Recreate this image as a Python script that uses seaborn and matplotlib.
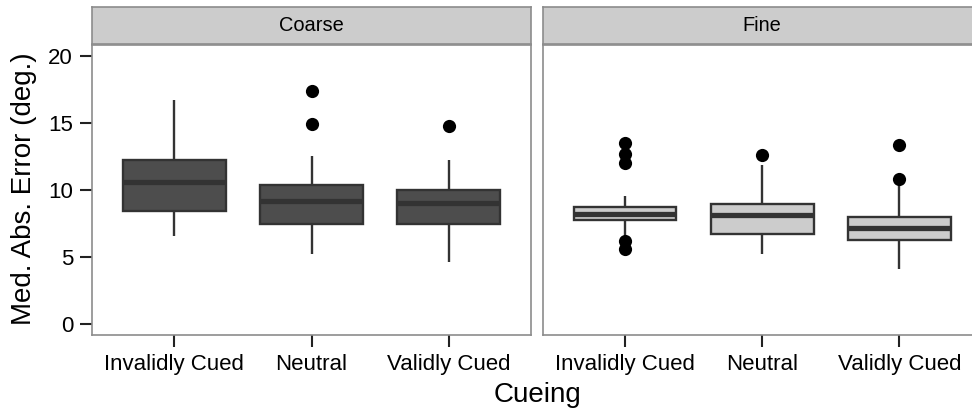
import numpy as np
import pandas as pd
import matplotlib
matplotlib.use("Agg")
import matplotlib.pyplot as plt
import seaborn as sns

sns.set_theme(style="white")
plt.rcParams['font.family'] = ['Liberation Sans', 'DejaVu Sans']
plt.rcParams['text.color'] = 'black'

# ---- data ----
categories = ["Invalidly Cued", "Neutral", "Validly Cued"]
panels = ["Coarse", "Fine"]
yticks = [0, 5, 10, 15, 20]

coarse_invalid = [6.58, 7.1, 7.7, 8.2, 8.45, 9.0, 9.6, 10.2, 10.62, 11.0, 11.5, 11.9, 12.27, 12.9, 13.6, 14.8, 16.75]
coarse_neutral = [5.21, 6.0, 6.6, 7.1, 7.5, 8.0, 8.5, 8.9, 9.22, 9.5, 9.8, 10.1, 10.4, 11.3, 12.59, 14.95, 17.43]
coarse_valid = [4.61, 5.8, 6.6, 7.2, 7.5, 8.0, 8.4, 8.8, 9.05, 9.3, 9.6, 9.8, 10.0, 10.6, 11.3, 12.27, 14.83]
fine_invalid = [5.59, 6.2, 6.45, 7.5, 7.75, 7.9, 8.0, 8.1, 8.2, 8.35, 8.5, 8.6, 8.73, 9.57, 12.02, 12.69, 13.56]
fine_neutral = [5.26, 5.8, 6.1, 6.4, 6.7, 7.2, 7.6, 7.9, 8.13, 8.4, 8.6, 8.8, 9.0, 9.6, 10.5, 11.89, 12.6]
fine_valid = [4.09, 5.0, 5.6, 6.0, 6.26, 6.6, 6.8, 7.0, 7.18, 7.4, 7.6, 7.8, 8.03, 8.6, 10.5, 10.82, 13.41]

panel_data = {
    "Coarse": [coarse_invalid, coarse_neutral, coarse_valid],
    "Fine": [fine_invalid, fine_neutral, fine_valid],
}
panel_fill = {"Coarse": "#4D4D4D", "Fine": "#CCCCCC"}

rows = []
for p in panels:
    for cat, vals in zip(categories, panel_data[p]):
        for v in vals:
            rows.append({"Panel": p, "Cueing": cat, "Error": v})
df = pd.DataFrame(rows)

# ---- layout ----
W, H = 972, 415
fig = plt.figure(figsize=(W / 100, H / 100), dpi=100)
pw = 439 / W
p_bottom = 1 - 334.7 / H
p_height = (334.7 - 45) / H
s_bottom = 1 - 44 / H
s_height = (44 - 7.3) / H
lefts = [92 / W, 542.7 / W]

border = "#8C8C8C"
for i, p in enumerate(panels):
    ax = fig.add_axes([lefts[i], p_bottom, pw, p_height])
    sub = df[df["Panel"] == p]
    sns.boxplot(
        data=sub, x="Cueing", y="Error", order=categories,
        color=panel_fill[p], saturation=1, width=0.75,
        linecolor="#333333", linewidth=1.7, showcaps=False,
        medianprops=dict(linewidth=3.8, color="#333333"),
        whiskerprops=dict(linewidth=1.7, color="#333333"),
        flierprops=dict(marker="o", markersize=9.5, markerfacecolor="black",
                        markeredgecolor="black", markeredgewidth=0),
        ax=ax,
    )
    ax.set_xlim(-0.6, 2.6)
    ax.set_ylim(-0.8, 20.85)
    ax.set_xlabel("")
    ax.set_ylabel("")
    ax.set_facecolor("white")
    for s in ax.spines.values():
        s.set_visible(True)
        s.set_color(border)
        s.set_linewidth(1.2)
    ax.tick_params(axis="both", direction="out", length=8.6, width=1.5,
                   color="#222222", labelsize=16, labelcolor="black", pad=5)
    ax.tick_params(axis="x", bottom=True)
    ax.set_yticks(yticks)
    if i == 0:
        ax.tick_params(axis="y", left=True)
    else:
        ax.tick_params(axis="y", left=False, labelleft=False)

    sax = fig.add_axes([lefts[i], s_bottom, pw, s_height])
    sax.set_facecolor("#CCCCCC")
    sax.set_xticks([])
    sax.set_yticks([])
    for s in sax.spines.values():
        s.set_visible(True)
        s.set_color(border)
        s.set_linewidth(1.2)
    sax.text(0.5, 0.5, p, transform=sax.transAxes,
             ha="center", va="center", fontsize=14.4, color="black")

fig.text(537 / W, 0.048, "Cueing", ha="center", va="center", fontsize=20, color="black")
fig.text(0.0247, 0.545, "Med. Abs. Error (deg.)", ha="center", va="center",
         rotation=90, fontsize=20, color="black")

fig.savefig("out.png", dpi=100)
